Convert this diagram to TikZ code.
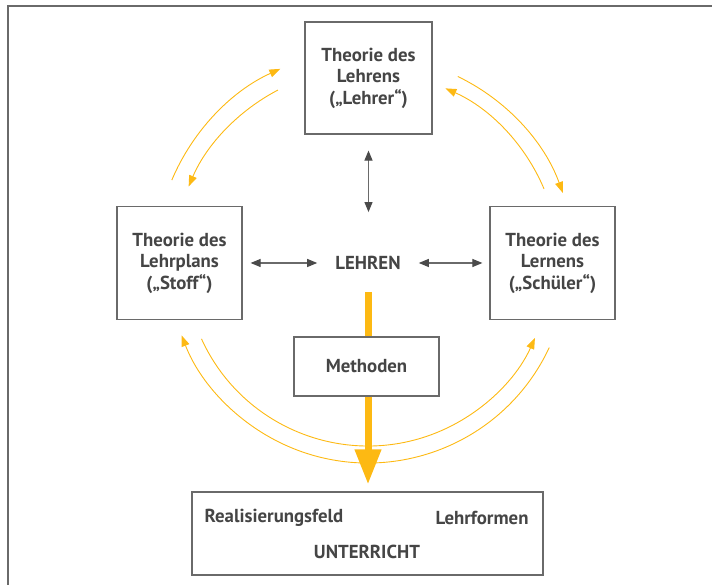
\documentclass[tikz,border=0pt]{standalone}
\usepackage{fontspec}
\setmainfont{PT Sans}
\usetikzlibrary{arrows.meta}
\definecolor{txt}{HTML}{454545}
\definecolor{boxc}{HTML}{6A6A6A}
\definecolor{gelb}{HTML}{FDB913}
\definecolor{darr}{HTML}{4A4A4A}
\tikzset{
  box/.style={draw=boxc, line width=1.2pt, align=center, text=txt, font=\bfseries\fontsize{18.8}{21.5}\selectfont, inner sep=0pt},
  lbl/.style={text=txt, font=\bfseries\fontsize{18.8}{21.5}\selectfont, inner sep=0pt},
  dbl/.style={draw=boxc, line width=1.1pt, {Triangle[length=10pt,width=8pt,color=darr]}-{Triangle[length=10pt,width=8pt,color=darr]}},
  yarr/.style={draw=gelb, line width=0.9pt, -{Triangle[length=11pt,width=8pt]}},
  bigy/.style={draw=gelb, line width=7pt}
}
\begin{document}
\begin{tikzpicture}[x=1pt,y=1pt]
\useasboundingbox (0,0) rectangle (712,585);
% frame (top and left)
\draw[boxc, line width=1.5pt] (8,0) -- (8,579) -- (712,579);
% nodes
\node[box, minimum width=127pt, minimum height=112pt] (lehrer) at (368.5,507) {Theorie des\\Lehrens\\(„Lehrer“)};
\node[box, minimum width=125pt, minimum height=113pt] (stoff) at (179.5,322) {Theorie des\\Lehrplans\\(„Stoff“)};
\node[box, minimum width=125pt, minimum height=113pt] (schueler) at (552.5,322) {Theorie des\\Lernens\\(„Schüler“)};
\node[lbl] (lehren) at (368,322) {LEHREN};
\node[box, minimum width=145pt, minimum height=59pt] (methoden) at (366.5,218.5) {Methoden};
\node[box, minimum width=351pt, minimum height=83pt] (unterricht) at (367.5,51.5) {};
\node[lbl] (feld) at (274,67) {Realisierungsfeld};
\node[lbl] (formen) at (482,67) {Lehrformen};
\node[lbl] (unt) at (367,33) {UNTERRICHT};
% gray arrows
\draw[dbl, shorten <=16pt, shorten >=44pt] (lehrer.south) -- (lehren.north -| lehrer.south);
\draw[dbl, shorten <=8pt, shorten >=18pt] (stoff.east) -- (lehren.west);
\draw[dbl, shorten <=18pt, shorten >=7pt] (lehren.east) -- (schueler.west);
% thick yellow arrow
\draw[bigy, shorten <=22pt] (lehren.south) -- (methoden.north -| lehren.south);
\draw[bigy, -{Triangle[length=35pt,width=25pt]}, shorten >=7pt] (methoden.south -| lehren.south) -- (unterricht.north -| lehren.south);
% curved yellow arrows
\draw[yarr] (lehren.center) ++(157.1:213) arc[start angle=157.1, end angle=114.3, radius=213];
\draw[yarr] (lehren.center) ++(117.5:195) arc[start angle=117.5, end angle=156.9, radius=195];
\draw[yarr] (lehren.center) ++(64.3:207) arc[start angle=64.3, end angle=19.8, radius=207];
\draw[yarr] (lehren.center) ++(22.8:191) arc[start angle=22.8, end angle=66.1, radius=191];
\draw[yarr] (lehren.center) ++(-25:200) arc[start angle=-25, end angle=-158.8, radius=200];
\draw[yarr] (lehren.center) ++(-155.5:183) arc[start angle=-155.5, end angle=-24.2, radius=183];
\end{tikzpicture}
\end{document}
